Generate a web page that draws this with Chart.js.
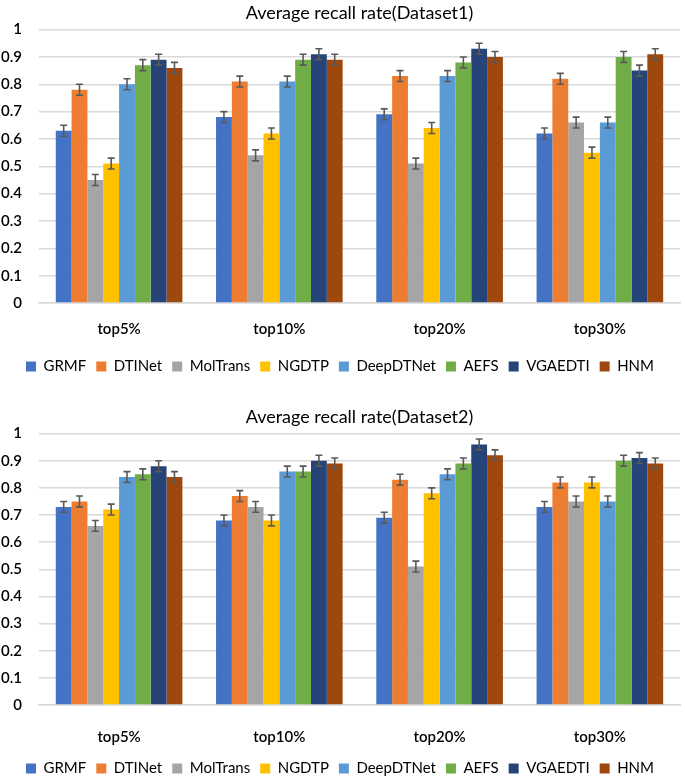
<!DOCTYPE html>
<html lang="en">
<head>
  <meta charset="UTF-8">
  <title>Average recall rate</title>
  <script src="https://cdn.jsdelivr.net/npm/chart.js"></script>
  <style>
    body { margin: 0; background: #fff; overflow: hidden; }
    .box { position: absolute; left: 0; width: 685px; }
  </style>
</head>
<body>
  <div class="box" style="top:0; height:392px;"><canvas id="chart1"></canvas></div>
  <div class="box" style="top:404px; height:390px;"><canvas id="chart2"></canvas></div>
  <script>
    const categories = ['top5%', 'top10%', 'top20%', 'top30%'];
    const methods = ['GRMF', 'DTINet', 'MolTrans', 'NGDTP', 'DeepDTNet', 'AEFS', 'VGAEDTI', 'HNM'];
    const colors = ['#4472C4', '#ED7D31', '#A5A5A5', '#FFC000', '#5B9BD5', '#70AD47', '#264478', '#9E480E'];
    const yTicks = [0, 0.1, 0.2, 0.3, 0.4, 0.5, 0.6, 0.7, 0.8, 0.9, 1];
    const errorSize = 0.02;

    // one row per method, one value per category
    const dataset1 = [
      [0.63, 0.68, 0.69, 0.62],
      [0.78, 0.81, 0.83, 0.82],
      [0.45, 0.54, 0.51, 0.66],
      [0.51, 0.62, 0.64, 0.55],
      [0.80, 0.81, 0.83, 0.66],
      [0.87, 0.89, 0.88, 0.90],
      [0.89, 0.91, 0.93, 0.85],
      [0.86, 0.89, 0.90, 0.91]
    ];
    const dataset2 = [
      [0.73, 0.68, 0.69, 0.73],
      [0.75, 0.77, 0.83, 0.82],
      [0.66, 0.73, 0.51, 0.75],
      [0.72, 0.68, 0.78, 0.82],
      [0.84, 0.86, 0.85, 0.75],
      [0.85, 0.86, 0.89, 0.90],
      [0.88, 0.90, 0.96, 0.91],
      [0.84, 0.89, 0.92, 0.89]
    ];

    // error bars drawn on top of each bar
    const errorBars = {
      id: 'errorBars',
      afterDatasetsDraw(chart) {
        const ctx = chart.ctx;
        const y = chart.scales.y;
        ctx.save();
        ctx.strokeStyle = '#595959';
        ctx.lineWidth = 1.6;
        chart.data.datasets.forEach((ds, i) => {
          chart.getDatasetMeta(i).data.forEach((bar, j) => {
            const v = ds.data[j];
            const top = y.getPixelForValue(v + errorSize);
            const bottom = y.getPixelForValue(v - errorSize);
            ctx.beginPath();
            ctx.moveTo(bar.x, top); ctx.lineTo(bar.x, bottom);
            ctx.moveTo(bar.x - 3.5, top); ctx.lineTo(bar.x + 3.5, top);
            ctx.moveTo(bar.x - 3.5, bottom); ctx.lineTo(bar.x + 3.5, bottom);
            ctx.stroke();
          });
        });
        ctx.restore();
      }
    };

    function makeChart(id, title, values, labelPad, extra) {
      new Chart(document.getElementById(id), {
        type: 'bar',
        data: {
          labels: categories,
          datasets: methods.map((m, i) => ({
            label: m,
            data: values[i],
            backgroundColor: colors[i],
            borderWidth: 0,
            categoryPercentage: 0.79,
            barPercentage: 1.0
          }))
        },
        options: {
          responsive: true,
          maintainAspectRatio: false,
          animation: false,
          layout: { padding: { left: 0, right: 5, top: 0, bottom: 8 } },
          plugins: {
            title: {
              display: true,
              text: title,
              fullSize: false,
              color: '#000',
              font: { family: 'Lato', size: 18, weight: 'normal' },
              padding: { top: 2, bottom: 6 }
            },
            legend: {
              position: 'bottom',
              labels: {
                color: '#000',
                font: { family: 'Lato', size: 15 },
                boxWidth: 10,
                boxHeight: 10,
                padding: 10
              }
            },
            tooltip: { enabled: false }
          },
          scales: {
            x: {
              grid: { display: false, drawTicks: false },
              border: { display: true, color: '#D9D9D9', width: 1.5 },
              ticks: { color: '#000', font: { family: 'Lato', size: 15, weight: '600' }, padding: labelPad },
              afterFit(scale) { scale.height += extra; }
            },
            y: {
              min: 0,
              max: 1,
              afterBuildTicks(scale) { scale.ticks = yTicks.map(v => ({ value: v })); },
              afterFit(scale) { scale.width -= 16; },
              grid: { color: '#D9D9D9', lineWidth: 1.5, drawTicks: false },
              border: { display: false },
              ticks: {
                color: '#000',
                font: { family: 'Lato', size: 15, weight: '600' },
                padding: 17,
                callback: v => String(v)
              }
            }
          }
        },
        plugins: [errorBars]
      });
    }

    makeChart('chart1', 'Average recall rate(Dataset1)', dataset1, 17, -6);
    makeChart('chart2', 'Average recall rate(Dataset2)', dataset2, 23, -18);
  </script>
</body>
</html>
